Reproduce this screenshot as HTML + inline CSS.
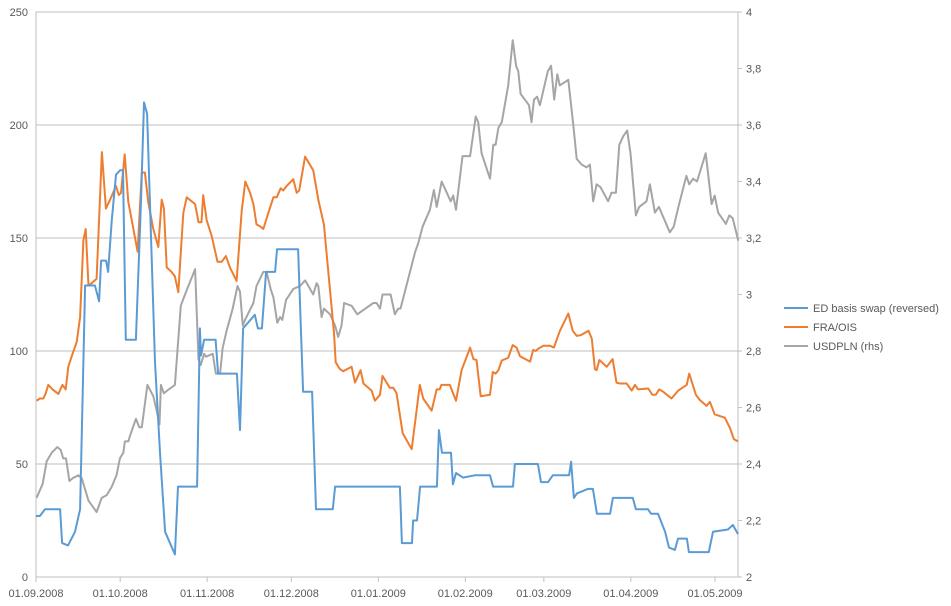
<!DOCTYPE html>
<html><head><meta charset="utf-8"><style>
body{margin:0;background:#fff;}
svg{display:block;font-family:"Liberation Sans",sans-serif;}
</style></head><body>
<svg id="chart" width="951" height="606" viewBox="0 0 951 606"></svg>
<script>
const leftTicks=[0,50,100,150,200,250];
const rightTicks=["2","2,2","2,4","2,6","2,8","3","3,2","3,4","3,6","3,8","4"];
const rightTickValues=[2,2.2,2.4,2.6,2.8,3,3.2,3.4,3.6,3.8,4];
const dateLabels=["01.09.2008","01.10.2008","01.11.2008","01.12.2008","01.01.2009","01.02.2009","01.03.2009","01.04.2009","01.05.2009"];
const dateDays=[0,30,61,91,122,153,181,212,242];
const seriesNames=["ED basis swap (reversed)","FRA/OIS","USDPLN (rhs)"];
const edDays=[0,1.4,3.2,8.6,9.3,11.4,13.9,15.7,17.5,21,22.5,23.2,25,25.7,27,28.5,30,31,32,35.6,37.4,38.5,39.6,42.4,44.2,46,49.5,50.6,57.4,58.4,58.8,59.9,64,64.9,71.6,72.7,73.8,78,79.1,80.5,82,85.2,85.9,93.4,95.2,98.4,99.8,105.8,106.6,129.7,130.4,134,134.4,135.8,136.9,142.9,143.6,144.7,147.9,148.6,149.7,152.2,156.4,161.8,162.9,170,170.7,178.9,180,182.5,184.2,190,190.7,191.7,192.8,196.7,198.5,199.9,204.6,205.6,212.7,213.8,218.1,219.2,221.7,224.2,225.6,227.7,228.8,232,232.7,239.8,241.3,246.6,248.4,250.2];
const edVals=[27,27,30,30,15,14,20,30,129,129,122,140,140,135,158,178,180,180,105,105,165,210,205,95,55,20,10,40,40,110,98,105,105,90,90,65,110,116,110,110,135,135,145,145,82,82,30,30,40,40,15,15,25,25,40,40,65,55,55,41,46,44,45,45,40,40,50,50,42,42,45,45,51,35,37,39,39,28,28,35,35,30,30,28,28,20,13,12,17,17,11,11,20,21,23,19];
const fraDays=[0.2,1.4,2.6,3.4,4.4,5.9,8,9.4,10.6,11.5,12.7,14.5,15.7,16.9,17.7,18.7,19.8,21.6,23.5,24.9,26.4,28.5,29.5,30.3,31.6,32.9,34.7,36.2,37.7,38.8,40,41.8,43.6,44.8,45.6,46.6,48.3,49.5,50.7,52.5,53.7,56.7,57.9,59,59.6,60.8,62.6,64.7,66.2,67.7,69.1,71.5,73.3,74.6,76.3,77.5,78.6,80.1,81,82.8,84.6,85.8,87.2,88.1,89.3,91.7,92.9,93.8,95.9,98.8,100.6,102.6,104.8,106.2,106.8,108.3,109.5,112.5,113.7,115.7,116.7,119.6,120.8,122.6,123.5,126.1,127.3,128.5,130.7,133.9,136.8,138,141,142.8,143.9,144.5,147.5,149.7,151.7,154.7,155.9,157,158.5,161.8,162.8,163.8,164.8,166,168.3,169.9,171.3,172.5,176.1,177.2,178.1,179,180.8,183.2,184.6,186.7,189.7,191.3,192.7,194.1,196.9,198.1,199.2,199.8,200.8,203.4,205.5,206.9,208.1,210.5,212.3,213.5,214.6,218.2,219.7,220.9,222.1,223.5,226.5,228.9,231.9,232.8,235.2,236.6,239,240.2,241.9,245.5,247.3,248.7,250.2];
const fraVals=[78,79,79,81,85,83,81,85,83,93,97.5,104,115,149,154,129,130,132,188,163,167,173,169,170,187,166,154,144,179,179,166,154,146,167,163,137,135,133,126,161,168,165,157,157,169,158,151,139.5,139.5,142,137,131,162,175,170,165,156,155,154,161,168,168,172,171,173,176,170,171,186,180,167,156,127,108,95,92,91,93,86,91.5,85.6,82.5,78,80.6,89,83.7,83.7,81.4,63.6,56.6,85,79,73.6,83,83,85,85,78,91.5,101.5,96.4,96,80,80.6,90.7,90,91.5,95.8,97,102.6,101.5,97.7,95.3,100.5,100,101,102.3,102.3,101.5,108.8,116.6,109,106.7,107,109,105.4,92,91.5,96,93,96.4,86,85.6,85.6,82.5,85,83,83.4,80.6,80.6,83,82,79,82.5,85,90,80.6,78.3,75.7,77.5,72,70.5,66,61,60];
const usdDays=[0.2,2.4,3.8,5.6,7.6,8.8,9.7,10.7,11.9,13.1,15.1,16.3,17.5,18.7,21.6,23.4,25.2,27,28.7,29.9,31.1,31.7,32.9,33.5,35.6,36.8,37.7,39.7,41.8,43,44,44.5,45.6,46.8,49.5,51.6,53.1,56.7,57.9,58.7,59.9,60.6,63,64.1,65.6,66.5,67.9,70.1,71.8,72.7,73.7,74.5,77.5,78.6,81,82.2,83.6,84.6,86,87,87.8,89.1,91.7,94.1,95.9,97.1,98.8,100,100.6,101.8,102.6,104.8,106.6,107.7,108.9,109.8,112.5,114.5,120.2,121.4,122.6,123.5,126.4,127.9,129.1,129.9,133.3,135.1,136.2,137.8,140.4,141.8,142.8,144.6,147.8,148.7,149.7,152,154.7,156.7,157.6,158.8,161.8,163,163.8,164.8,166,168.3,169.9,171.1,171.9,172.7,175.7,176.6,177.5,178.6,179.6,182.4,183.6,184.7,185.8,186.7,189.7,191.5,192.7,194.5,196.2,197.4,198.6,199.8,201.2,203.9,205.1,206.7,207.9,209.3,210.7,211.9,213.8,215,217.6,218.8,220.6,222,225.9,227.3,229.2,231.8,232.8,234.2,235.6,238.7,240.8,241.9,243.1,245.9,247.1,248.3,250.3];
const usdVals=[2.28,2.33,2.41,2.44,2.46,2.45,2.42,2.42,2.34,2.35,2.36,2.35,2.31,2.27,2.23,2.28,2.29,2.32,2.36,2.42,2.44,2.48,2.48,2.5,2.56,2.53,2.53,2.68,2.64,2.59,2.54,2.68,2.65,2.66,2.68,2.96,3,3.09,2.77,2.75,2.79,2.78,2.79,2.72,2.72,2.81,2.87,2.95,3.03,3.01,2.89,2.91,2.97,3.03,3.08,3.08,3.02,2.99,2.9,2.92,2.91,2.98,3.02,3.03,3.05,3.03,3,3.04,3.03,2.92,2.95,2.93,2.89,2.85,2.89,2.97,2.96,2.93,2.97,2.97,2.95,3,3,2.93,2.95,2.95,3.08,3.15,3.18,3.24,3.3,3.37,3.31,3.4,3.33,3.35,3.3,3.49,3.49,3.63,3.61,3.5,3.41,3.53,3.53,3.59,3.61,3.74,3.9,3.81,3.79,3.71,3.67,3.61,3.69,3.7,3.67,3.79,3.81,3.69,3.78,3.74,3.76,3.6,3.48,3.46,3.45,3.46,3.33,3.39,3.38,3.33,3.36,3.36,3.53,3.56,3.58,3.5,3.28,3.31,3.33,3.39,3.29,3.31,3.22,3.24,3.32,3.42,3.39,3.41,3.4,3.5,3.32,3.35,3.29,3.25,3.28,3.27,3.19];

const svg=document.getElementById('chart');
const NS='http://www.w3.org/2000/svg';
const X0=36,X1=738,Y0=577,Y1=12,DAYMAX=250.2;
function xs(d){return X0+d*(X1-X0)/DAYMAX;}
function yl(v){return Y0-v*(Y0-Y1)/250;}
function yr(v){return Y0-(v-2)*(Y0-Y1)/2;}
function mk(tag,attrs){const e=document.createElementNS(NS,tag);for(const k in attrs)e.setAttribute(k,attrs[k]);svg.appendChild(e);return e;}
leftTicks.forEach((v,i)=>{
  if(v>0){const g=mk('line',{x1:X0,x2:X1,y1:yl(v),y2:yl(v),stroke:'#bfbfbf','stroke-width':1});
  
  }
  const t=mk('text',{x:28,y:yl(v)+4,'text-anchor':'end','font-size':11,fill:'#595959'});
  t.textContent=v;
  
  
});
rightTickValues.forEach((v,i)=>{
  const tk=mk('line',{x1:X1,x2:X1+4,y1:yr(v),y2:yr(v),stroke:'#bfbfbf'});
  
  
  const t=mk('text',{x:746,y:yr(v)+4,'font-size':11,fill:'#595959'});
  t.textContent=rightTicks[i];
  
  
});
const ax=mk('line',{x1:X0,x2:X0,y1:Y1,y2:Y0,stroke:'#bfbfbf'});


const ax2=mk('line',{x1:X1,x2:X1,y1:Y1,y2:Y0,stroke:'#bfbfbf'});


const xa=mk('line',{x1:X0,x2:X1,y1:Y0,y2:Y0,stroke:'#bfbfbf'});


dateDays.forEach((d,i)=>{
  const tk=mk('line',{x1:xs(d),x2:xs(d),y1:Y0,y2:Y0+5,stroke:'#bfbfbf'});
  
  
  const t=mk('text',{x:xs(d),y:597,'text-anchor':'middle','font-size':11,fill:'#595959'});
  t.textContent=dateLabels[i];
  
  
});
function line(days,vals,yf,color,name){
  const p=days.map((d,i)=>xs(d).toFixed(1)+','+yf(vals[i]).toFixed(1)).join(' ');
  const l=mk('polyline',{points:p,fill:'none',stroke:color,'stroke-width':2,'stroke-linejoin':'round'});
  
  
}
line(usdDays,usdVals,yr,'#a5a5a5','usdpln-line');
line(fraDays,fraVals,yl,'#ed7d31','fra-ois-line');
line(edDays,edVals,yl,'#5b9bd5','ed-basis-line');
const cols=['#5b9bd5','#ed7d31','#a5a5a5'];
seriesNames.forEach((n,i)=>{
  const y=308+i*19;
  const l=mk('line',{x1:784,x2:808,y1:y,y2:y,stroke:cols[i],'stroke-width':2});
  
  
  const t=mk('text',{x:813,y:y+4,'font-size':11,fill:'#595959'});
  t.textContent=n;
  
  
});
</script>
</body></html>
